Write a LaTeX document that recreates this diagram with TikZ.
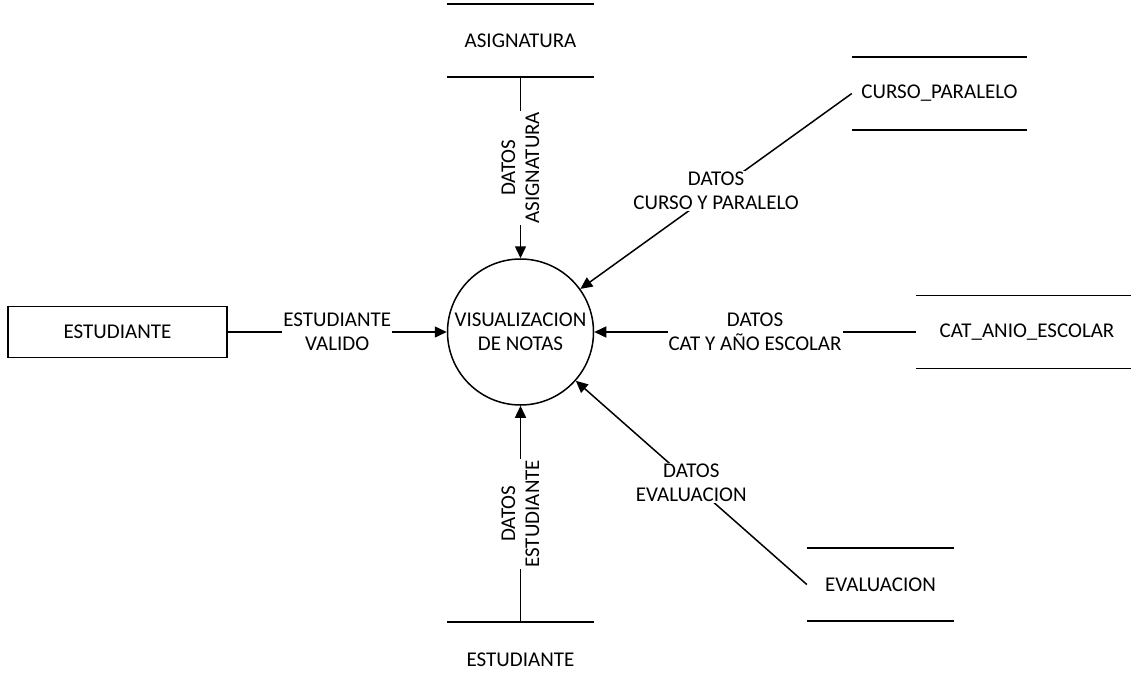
\documentclass[tikz,border=0pt]{standalone}
\usepackage{fontspec}
\setmainfont{Carlito}
\usetikzlibrary{arrows.meta,positioning}
\definecolor{dfdline}{RGB}{0,0,0}
\tikzset{
  dfdProc/.style={draw=dfdline, circle, line width=1.5pt, minimum size=146pt,
                  inner sep=0pt, align=center},
  dfdEntity/.style={draw=dfdline, line width=1.5pt, minimum width=219pt,
                    minimum height=51pt},
  dfdStore/.style={minimum width=147pt, minimum height=73pt, inner sep=0pt},
  dfdBar/.style={draw=dfdline, line width=1.5pt},
  dfdFlow/.style={-{Triangle[length=12pt,width=11pt]}, line width=1.5pt,
                  draw=dfdline},
  dfdLabel/.style={fill=white, align=center, inner sep=1pt}
}

\begin{document}
\begin{tikzpicture}[x=1pt,y=-1pt,font=\fontsize{21}{24}\selectfont]
  \useasboundingbox (0,0) rectangle (1131,693);
  \node[dfdProc] (proc) at (520.5,332) {VISUALIZACION\\DE NOTAS};
  \node[dfdEntity] (est) at (117.5,332) {ESTUDIANTE};
  \node[dfdStore] (asig) at (520.5,40.5) {ASIGNATURA};
  \node[dfdStore, minimum width=175pt] (curso) at (939.5,93.5) {CURSO\_PARALELO};
  \node[dfdStore, minimum width=222pt] (cat) at (1027,332) {CAT\_ANIO\_ESCOLAR};
  \node[dfdStore] (eval) at (880.5,584.5) {EVALUACION};
  \node[dfdStore, minimum height=76pt] (estS) at (520.5,660) {ESTUDIANTE};

  \foreach \s in {asig,curso,cat,eval}
    \draw[dfdBar] (\s.north west) -- (\s.north east) (\s.south west) -- (\s.south east);
  \draw[dfdBar] (estS.north west) -- (estS.north east);

  \draw[dfdFlow] (est.east) -- node[dfdLabel]{ESTUDIANTE\\VALIDO} (proc.west);
  \draw[dfdFlow] (asig.south) -- node[dfdLabel, rotate=90]{DATOS\\ASIGNATURA} (proc.north);
  \draw[dfdFlow] (estS.north) -- node[dfdLabel, rotate=90]{DATOS\\ESTUDIANTE} (proc.south);
  \draw[dfdFlow] (cat.west) -- node[dfdLabel]{DATOS\\CAT Y AÑO ESCOLAR} (proc.east);
  \draw[dfdFlow] (curso.west) -- node[dfdLabel]{DATOS\\CURSO Y PARALELO} (proc);
  \draw[dfdFlow] (eval.west) -- node[dfdLabel]{DATOS\\EVALUACION} (proc);
\end{tikzpicture}
\end{document}
